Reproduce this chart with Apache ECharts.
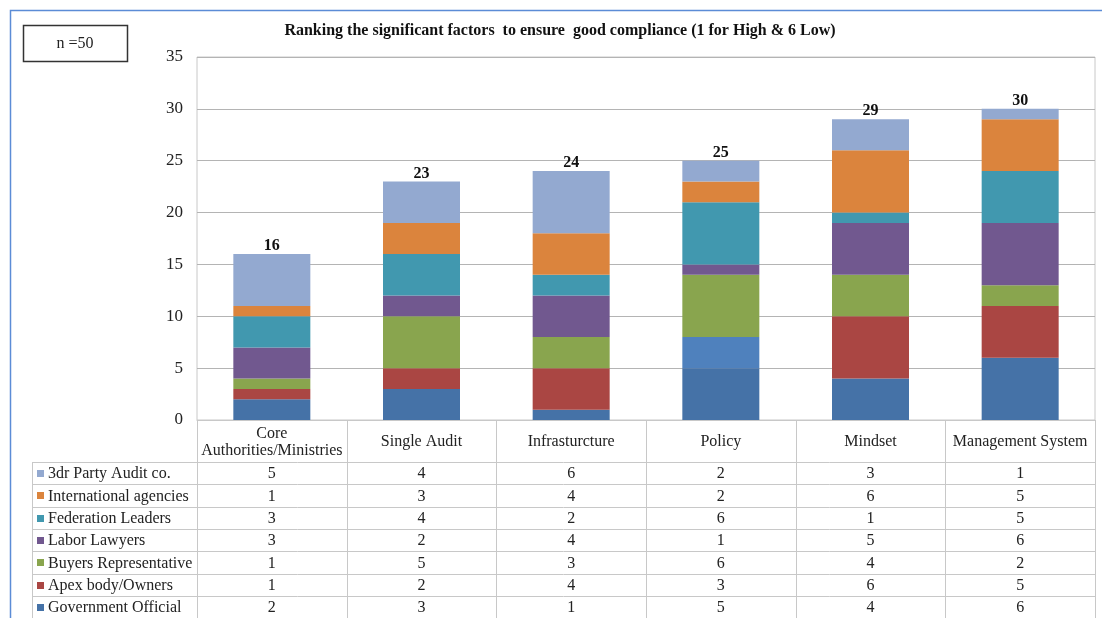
<!DOCTYPE html>
<html>
<head>
<meta charset="utf-8">
<title>Ranking the significant factors</title>
<script src="https://cdn.jsdelivr.net/npm/echarts@6/dist/echarts.min.js"></script>
<style>
  html, body { margin: 0; padding: 0; background: #fff; }
  #chart { width: 1102px; height: 618px; }
</style>
</head>
<body>
<div id="chart"></div>
<script>
// Categories along the x axis
const categories = ['Core\nAuthorities/Ministries', 'Single Audit', 'Infrasturcture', 'Policy', 'Mindset', 'Management System'];

// Rank counts per stakeholder group (bottom of the stack first)
const governmentOfficial   = [2, 3, 1, 5, 4, 6];
const apexBodyOwners       = [1, 2, 4, 3, 6, 5];
const buyersRepresentative = [1, 5, 3, 6, 4, 2];
const laborLawyers         = [3, 2, 4, 1, 5, 6];
const federationLeaders    = [3, 4, 2, 6, 1, 5];
const internationalAgencies = [1, 3, 4, 2, 6, 5];
const thirdPartyAudit      = [5, 4, 6, 2, 3, 1];

// Y axis tick settings
const yMin = 0, yMax = 35, yStep = 5;

const seriesDefs = [
  { name: 'Government Official',    data: governmentOfficial,    color: '#4572A7' },
  { name: 'Apex body/Owners',       data: apexBodyOwners,        color: '#AA4643' },
  { name: 'Buyers Representative',  data: buyersRepresentative,  color: '#89A54E' },
  { name: 'Labor Lawyers',          data: laborLawyers,          color: '#71588F' },
  { name: 'Federation Leaders',     data: federationLeaders,     color: '#4198AF' },
  { name: 'International agencies', data: internationalAgencies, color: '#DB843D' },
  { name: '3dr Party Audit co.',    data: thirdPartyAudit,       color: '#93A9D0' }
];

// The Apex segment of the Policy column is shown in a lighter blue
const policyApexColor = '#4F81BD';

const totals = categories.map((_, i) => seriesDefs.reduce((s, d) => s + d.data[i], 0));

const FONT = '"Liberation Serif", "Times New Roman", serif';
const GRID = { left: 197, right: 7, top: 57, bottom: 198 };
const LINE = '#c8c8c8';

const chart = echarts.init(document.getElementById('chart'), null, { renderer: 'canvas' });

const series = seriesDefs.map((d, si) => ({
  name: d.name,
  type: 'bar',
  stack: 'rank',
  barWidth: 77,
  itemStyle: { color: d.color },
  data: d.data.map((v, ci) => (d.name === 'Apex body/Owners' && categories[ci] === 'Policy')
    ? { value: v, itemStyle: { color: policyApexColor } } : v),
  label: si === seriesDefs.length - 1 ? {
    show: true,
    position: 'top',
    distance: 0,
    formatter: p => String(totals[p.dataIndex]),
    fontFamily: FONT,
    fontWeight: 'bold',
    fontSize: 16,
    color: '#111'
  } : { show: false }
}));

chart.setOption({
  animation: false,
  grid: { left: GRID.left, right: GRID.right, top: GRID.top, bottom: GRID.bottom, show: true, borderColor: LINE, borderWidth: 1 },
  xAxis: {
    type: 'category',
    data: categories,
    axisLabel: { show: false },
    axisTick: { show: false },
    axisLine: { lineStyle: { color: LINE } }
  },
  yAxis: {
    type: 'value',
    min: yMin, max: yMax, interval: yStep,
    axisLine: { show: false },
    axisTick: { show: false },
    axisLabel: { fontFamily: FONT, fontSize: 17, color: '#222', margin: 14 },
    splitLine: { lineStyle: { color: '#b4b4b4' } }
  },
  series: series
});

// Data table under the plot, laid out from the category axis positions
function buildTable() {
  const W = chart.getWidth(), H = chart.getHeight();
  const plotRight = W - GRID.right;
  const axisY = H - GRID.bottom;
  const centers = categories.map(c => chart.convertToPixel({ xAxisIndex: 0 }, c));
  const band = centers.length > 1 ? centers[1] - centers[0] : (plotRight - GRID.left);
  const bounds = [GRID.left].concat(centers.map(c => c + band / 2));
  const tableLeft = 32;
  const headerBottom = 462;
  const rowH = 22.3;
  const rows = seriesDefs.slice().reverse();
  const els = [];

  // header row: category names
  categories.forEach((c, i) => {
    els.push({
      type: 'text', silent: true,
      style: { x: centers[i], y: (axisY + headerBottom) / 2 + 1, text: c, align: 'center', verticalAlign: 'middle',
        font: '16px ' + FONT, fill: '#222', lineHeight: 17 }
    });
  });

  // horizontal rules
  for (let r = 0; r <= rows.length; r++) {
    const y = Math.round(headerBottom + r * rowH) + 0.5;
    els.push({ type: 'line', silent: true, shape: { x1: tableLeft, y1: y, x2: plotRight, y2: y }, style: { stroke: LINE, lineWidth: 1 } });
  }
  // vertical rules
  bounds.forEach(x => {
    const xx = Math.round(x) + 0.5;
    els.push({ type: 'line', silent: true, shape: { x1: xx, y1: axisY, x2: xx, y2: H }, style: { stroke: LINE, lineWidth: 1 } });
  });
  els.push({ type: 'line', silent: true, shape: { x1: tableLeft + 0.5, y1: headerBottom, x2: tableLeft + 0.5, y2: H }, style: { stroke: LINE, lineWidth: 1 } });

  // body rows: legend key, series name, values
  rows.forEach((d, r) => {
    const yc = headerBottom + r * rowH + rowH / 2 + 1;
    els.push({ type: 'rect', silent: true, shape: { x: 37, y: Math.round(yc - 4), width: 7, height: 7 }, style: { fill: d.color } });
    els.push({ type: 'text', silent: true, style: { x: 48, y: yc, text: d.name, align: 'left', verticalAlign: 'middle', font: '16px ' + FONT, fill: '#222' } });
    d.data.forEach((v, ci) => {
      els.push({ type: 'text', silent: true, style: { x: centers[ci], y: yc, text: String(v), align: 'center', verticalAlign: 'middle', font: '16px ' + FONT, fill: '#222' } });
    });
  });

  // chart title
  els.push({ type: 'text', silent: true, style: { x: 560, y: 31, text: 'Ranking the significant factors  to ensure  good compliance (1 for High & 6 Low)',
    align: 'center', verticalAlign: 'middle', font: 'bold 16px ' + FONT, fill: '#111' } });

  // sample size box
  els.push({ type: 'rect', silent: true, shape: { x: 23.5, y: 25.5, width: 104, height: 36 }, style: { fill: '#fff', stroke: '#333', lineWidth: 1.5 } });
  els.push({ type: 'text', silent: true, style: { x: 75, y: 44, text: 'n =50', align: 'center', verticalAlign: 'middle', font: '16px ' + FONT, fill: '#222' } });

  // outer frame
  els.push({ type: 'rect', silent: true, shape: { x: 10.5, y: 10.5, width: W + 20, height: H + 20 }, style: { fill: 'none', stroke: '#5B8CD6', lineWidth: 1.5 } });

  chart.setOption({ graphic: { elements: els } });
}

buildTable();
</script>
</body>
</html>
